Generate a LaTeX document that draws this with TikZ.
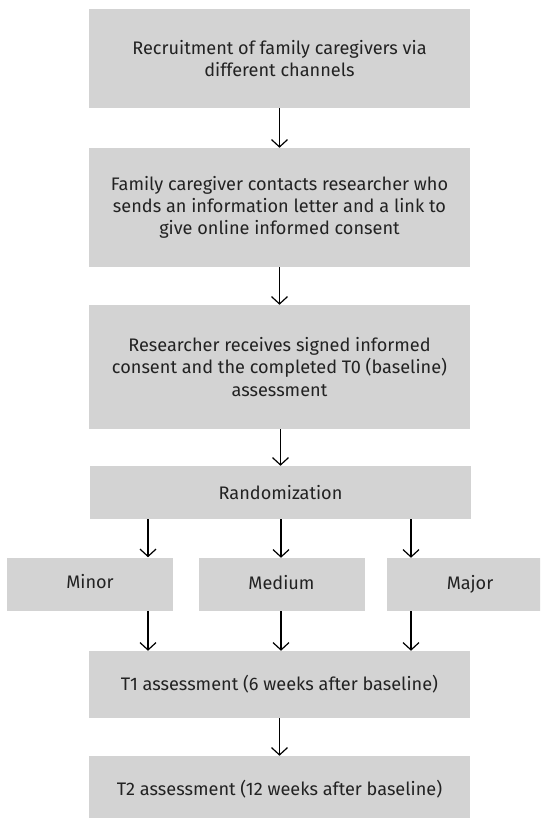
\documentclass[tikz,border=0pt]{standalone}
\usepackage{fontspec}
\setmainfont{Fira Sans}
\usetikzlibrary{arrows.meta}
\definecolor{boxgray}{RGB}{211,211,211}
\definecolor{textgray}{RGB}{34,34,34}
\tikzset{
  stepbox/.style={fill=boxgray, text=textgray, inner sep=0pt, align=center,
    font=\fontsize{13.6}{16.6}\selectfont},
  bigbox/.style={stepbox, minimum width=285.75pt},
  armbox/.style={stepbox, minimum width=124.5pt, minimum height=39.75pt,
    text height=9.8pt, text depth=3pt},
  arr/.style={line width=0.9pt, -{Straight Barb[length=5.5pt,width=12pt]}},
}
\begin{document}
\begin{tikzpicture}[x=0.75pt, y=-0.75pt]
  \useasboundingbox (0,0) rectangle (540,818);
  \clip (0,0) rectangle (540,818);
  % main steps
  \node[bigbox, minimum height=74.25pt] (recruit) at (279.5,58.5)
    {Recruitment of family caregivers via\\different channels};
  \node[bigbox, minimum height=89.25pt] (contact) at (279.5,207.5)
    {Family caregiver contacts researcher who\\sends an information letter and a link to\\give online informed consent};
  \node[bigbox, minimum height=93pt] (consent) at (279.5,367)
    {Researcher receives signed informed\\consent and the completed T0 (baseline)\\assessment};
  \node[bigbox, minimum height=39.75pt] (rand) at (280.5,492.5) {Randomization};
  % arms
  \node[armbox] (minor) at (90,584) {Minor};
  \node[armbox] (medium) at (281.5,584.5) {Medium};
  \node[armbox] (major) at (470,584.5) {Major};
  % follow-up
  \node[bigbox, minimum height=50.25pt] (tone) at (279.5,684.5)
    {T1 assessment (6 weeks after baseline)};
  \node[bigbox, minimum height=50.25pt] (ttwo) at (279.5,789.5)
    {T2 assessment (12 weeks after baseline)};
  \coordinate (colminor) at (148,0);
  \coordinate (colmedium) at (281,0);
  \coordinate (colmajor) at (411,0);
  \draw[arr] (recruit) -- (contact);
  \draw[arr] (contact) -- (consent);
  \draw[arr] (consent.south -| rand.north) -- (rand.north);
  \foreach \arm in {minor,medium,major} {
      \draw[arr] (col\arm |- rand.south) -- (col\arm |- \arm.north);
      \draw[arr] (col\arm |- \arm.south) -- (col\arm |- tone.north);
  }
  \draw[arr] (tone) -- (ttwo);
\end{tikzpicture}
\end{document}
